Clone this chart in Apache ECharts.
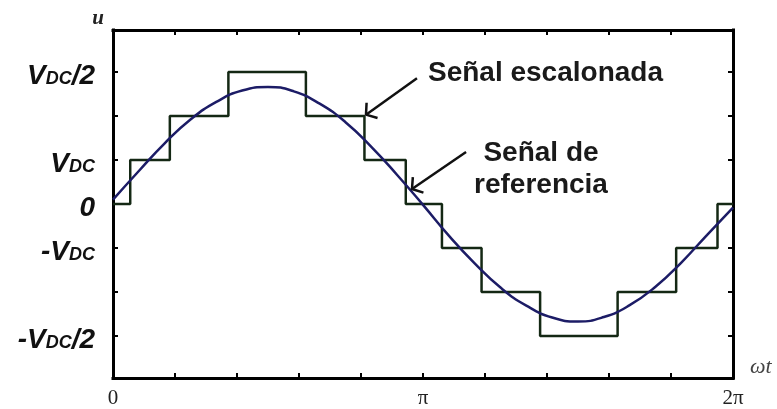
<!DOCTYPE html>
<html>
<head>
<meta charset="utf-8">
<script src="https://cdn.jsdelivr.net/npm/echarts@6/dist/echarts.min.js"></script>
<style>
  html, body { margin: 0; padding: 0; background: #ffffff; }
  #chart { width: 777px; height: 409px; }
</style>
</head>
<body>
<div id="chart"></div>
<script>
// Reference signal, sampled every 15 degrees (in units of V_DC steps)
const refAngles = [0, 15, 30, 45, 60, 75, 90, 105, 120, 135, 150, 165, 180,
                   195, 210, 225, 240, 255, 270, 285, 300, 315, 330, 345, 360];
const refValues = [0.10, 0.75, 1.38, 1.92, 2.32, 2.58, 2.66, 2.56, 2.28, 1.86, 1.30, 0.66, -0.02,
                   -0.72, -1.35, -1.90, -2.31, -2.58, -2.67, -2.57, -2.30, -1.88, -1.33, -0.70, -0.08];

// Staircase: angle (degrees) at which each level starts, and the level held
const stepAngles = [0, 10, 33, 67, 112, 146, 170, 191, 214, 248, 293, 327, 351, 360];
const stepLevels = [0, 1, 2, 3, 2, 1, 0, -1, -2, -3, -2, -1, 0, 0];

// Axis ticks and labels
const yTickValues = [-3, -2, -1, 0, 1, 2, 3];
const yLabelValues = [-3, -1, 0, 1, 3];
const yLabelTexts = ['-V_DC/2', '-V_DC', '0', 'V_DC', 'V_DC/2'];
const xLabelValues = [0, 180, 360];
const xLabelTexts = ['0', 'π', '2π'];

// Callout notes: arrow tip, arrow tail, text anchor
const noteTexts = ['Señal escalonada', 'Señal de\nreferencia'];
const noteTips = [[146.9, 2.03], [173.6, 0.34]];
const noteTails = [[176.5, 2.86], [205.0, 1.18]];
const noteAnchors = [[182.9, 2.98], [248.5, 0.80]];
const noteAligns = ['left', 'center'];

const INK = '#111111';
const YMAX = 3.955;

// "V_DC" is written as a large V followed by a small DC
function richLabel(t) {
  return t.split(/(V_DC)/).filter(function (p) { return p.length; }).map(function (p) {
    return p === 'V_DC' ? '{v|V}{s|DC}' : '{v|' + p + '}';
  }).join('');
}

const yRich = {
  v: { fontFamily: 'Liberation Sans', fontStyle: 'italic', fontWeight: 'bold', fontSize: 28, color: INK },
  s: { fontFamily: 'Liberation Sans', fontStyle: 'italic', fontWeight: 'bold', fontSize: 18, color: INK, padding: [7, 0, 0, 0] }
};

const frameLine = { show: true, onZero: false, lineStyle: { color: '#000', width: 3, cap: 'square' } };
const frameTick = { show: true, inside: true, length: 5, lineStyle: { color: '#000', width: 2 } };

const xCommon = { type: 'value', min: 0, max: 360, interval: 36, splitLine: { show: false },
                  axisLine: frameLine, axisTick: frameTick };
const yCommon = { type: 'value', min: -YMAX, max: YMAX, splitLine: { show: false },
                  axisLine: frameLine, axisTick: Object.assign({ customValues: yTickValues }, frameTick) };

const chart = echarts.init(document.getElementById('chart'));
chart.setOption({
  animation: false,
  backgroundColor: '#ffffff',
  grid: { left: 113, right: 44, top: 30, bottom: 31, containLabel: false },
  xAxis: [
    Object.assign({}, xCommon, {
      position: 'bottom',
      name: 'ωt', nameLocation: 'end', nameGap: 17,
      nameTextStyle: { fontFamily: 'Liberation Serif', fontStyle: 'italic', fontSize: 22, color: '#444',
                       verticalAlign: 'bottom', padding: [0, 0, 0, 0] },
      axisLabel: {
        customValues: xLabelValues, margin: 10,
        fontFamily: 'Liberation Serif', fontSize: 21, color: '#222',
        formatter: function (v) { return xLabelTexts[xLabelValues.indexOf(v)]; }
      }
    }),
    Object.assign({}, xCommon, { position: 'top', axisLabel: { show: false } })
  ],
  yAxis: [
    Object.assign({}, yCommon, {
      position: 'left',
      name: 'u', nameLocation: 'end', nameGap: 1,
      nameTextStyle: { fontFamily: 'Liberation Serif', fontStyle: 'italic', fontWeight: 'bold', fontSize: 21,
                       color: '#222', align: 'right', verticalAlign: 'bottom', padding: [0, 9, 0, 0] },
      axisLabel: {
        customValues: yLabelValues, margin: 18, padding: [8, 0, 0, 0],
        formatter: function (v) {
          const i = yLabelValues.indexOf(Math.round(v));
          return richLabel(yLabelTexts[i]);
        },
        rich: yRich
      }
    }),
    Object.assign({}, yCommon, { position: 'right', axisLabel: { show: false } })
  ],
  series: [
    {
      name: 'Señal escalonada',
      type: 'line',
      step: 'end',
      symbol: 'none',
      data: stepAngles.map(function (a, i) { return [a, stepLevels[i]]; }),
      lineStyle: { color: '#142814', width: 2.5 },
      z: 3
    },
    {
      name: 'Señal de referencia',
      type: 'line',
      smooth: true,
      symbol: 'none',
      data: refAngles.map(function (a, i) { return [a, refValues[i]]; }),
      lineStyle: { color: '#1c1c66', width: 2.5 },
      z: 4
    },
    {
      name: 'notes',
      type: 'custom',
      clip: false,
      z: 5,
      data: noteTexts.map(function (t, i) {
        return [noteTips[i][0], noteTips[i][1], noteTails[i][0], noteTails[i][1], noteAnchors[i][0], noteAnchors[i][1], i];
      }),
      renderItem: function (params, api) {
        const tip = api.coord([api.value(0), api.value(1)]);
        const tail = api.coord([api.value(2), api.value(3)]);
        const anchor = api.coord([api.value(4), api.value(5)]);
        const idx = api.value(6);
        const ang = Math.atan2(tail[1] - tip[1], tail[0] - tip[0]);
        const h = 12, spread = 0.9;
        const a1 = [tip[0] + h * Math.cos(ang + spread), tip[1] + h * Math.sin(ang + spread)];
        const a2 = [tip[0] + h * Math.cos(ang - spread), tip[1] + h * Math.sin(ang - spread)];
        return {
          type: 'group',
          children: [
            { type: 'line', shape: { x1: tail[0], y1: tail[1], x2: tip[0], y2: tip[1] },
              style: { stroke: INK, lineWidth: 2.5 } },
            { type: 'polyline', shape: { points: [a1, tip, a2] },
              style: { stroke: INK, fill: null, lineWidth: 2.5 } },
            { type: 'text', x: anchor[0], y: anchor[1],
              style: { text: noteTexts[idx], fill: '#1a1a1a', align: noteAligns[idx], verticalAlign: 'middle',
                       fontFamily: 'Liberation Sans', fontWeight: 'bold', fontSize: 28, lineHeight: 32 } }
          ]
        };
      }
    }
  ]
});
</script>
</body>
</html>
